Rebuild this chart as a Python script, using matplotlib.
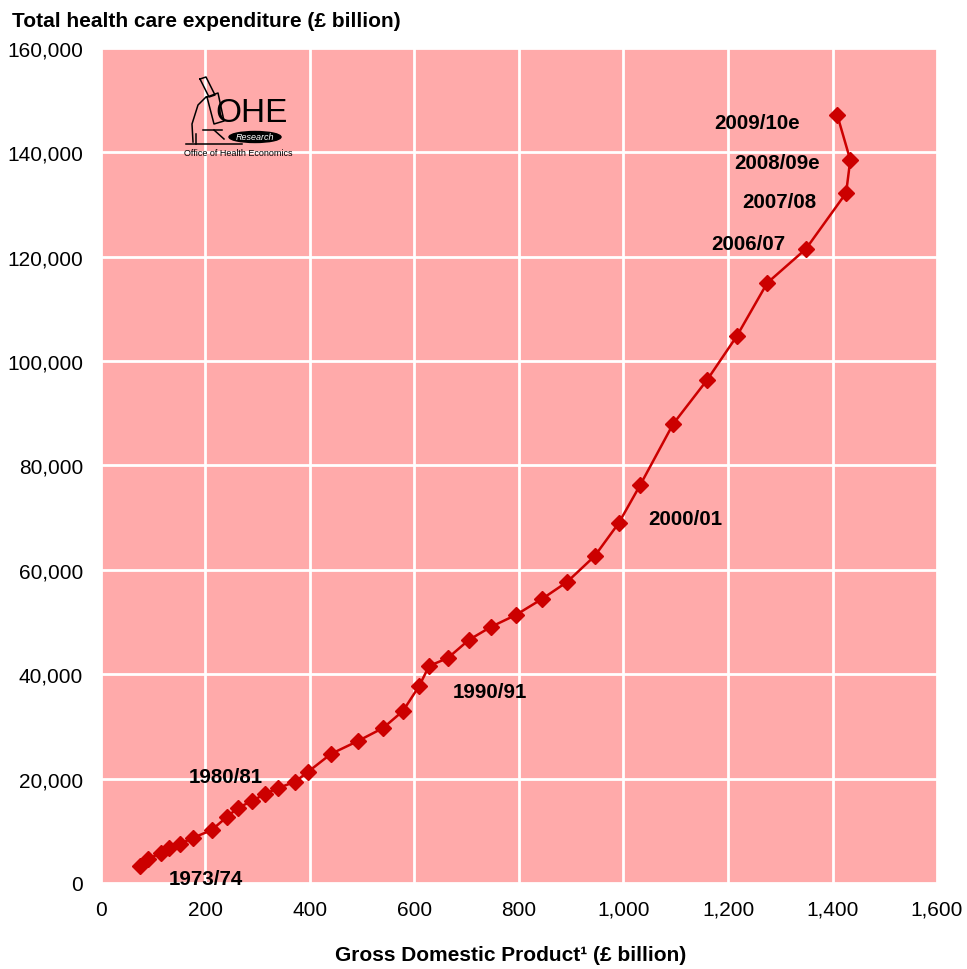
import matplotlib
matplotlib.use("Agg")
import matplotlib.pyplot as plt
from matplotlib.ticker import FuncFormatter
from matplotlib.patches import Ellipse

plt.rcParams['font.family'] = ['Liberation Sans', 'DejaVu Sans']

years = [f"{y}/{str(y+1)[-2:]}" for y in range(1973, 2010)]
gdp = [75, 90, 115, 130, 151, 176, 212, 241, 262, 289, 314, 339, 371, 396,
       440, 492, 540, 578, 609, 628, 664, 704, 746, 794, 844, 892, 945, 991,
       1032, 1095, 1160, 1217, 1275, 1349, 1426, 1434, 1409]
the = [3257, 4599, 5749, 6706, 7473, 8623, 10156, 12647, 14371, 15713, 17054,
       18204, 19353, 21270, 24719, 27210, 29701, 32958, 37749, 41581, 43114,
       46563, 49054, 51353, 54419, 57677, 62659, 68982, 76263, 87952, 96383,
       104814, 114970, 121485, 132216, 138539, 147162]

label_text = ["1973/74", "1980/81", "1990/91", "2000/01", "2006/07", "2007/08",
              "2008/09e", "2009/10e"]
label_x = [201, 239, 744, 1118, 1238, 1298, 1294, 1256]
label_y = [766, 20311, 36600, 69748, 122443, 130491, 137964, 145628]

fig = plt.figure(figsize=(9.67, 9.70), dpi=100)
ax = fig.add_axes([0.1044, 0.0887, 0.969 - 0.1044, 0.9495 - 0.0887])
ax.set_facecolor('#FFAAAA')
for s in ax.spines.values():
    s.set_visible(False)
ax.grid(True, color='white', linewidth=2)
ax.set_axisbelow(True)

ax.plot(gdp, the, color='#CC0000', linewidth=1.8, marker='D', markersize=8,
        markerfacecolor='#CC0000', markeredgecolor='#CC0000', zorder=3)

for t, x, y in zip(label_text, label_x, label_y):
    ax.text(x, y, t, ha='center', va='center', fontsize=14.8, fontweight='bold',
            color='black', zorder=4)

ax.set_xlim(0, 1600)
ax.set_ylim(0, 160000)
ax.set_xticks(range(0, 1601, 200))
ax.set_yticks(range(0, 160001, 20000))
fmt = FuncFormatter(lambda v, p: f"{int(v):,}")
ax.xaxis.set_major_formatter(fmt)
ax.yaxis.set_major_formatter(fmt)
ax.tick_params(length=0, labelsize=15)
ax.tick_params(axis='y', pad=13)
ax.tick_params(axis='x', pad=12)

fig.text(0.012, 0.978, "Total health care expenditure (£ billion)", fontsize=15,
         fontweight='bold', ha='left', va='center')
fig.text(0.528, 0.015, "Gross Domestic Product\u00b9 (£ billion)", fontsize=15,
         fontweight='bold', ha='center', va='center')

# OHE logo approximation (drawn in figure pixel coordinates)
W, H = 967.0, 970.0
def fp(px, py):
    return (px / W, 1 - py / H)

ohe_x, ohe_y = fp(252, 114)
fig.text(ohe_x, ohe_y, "OHE", fontsize=24, ha='center', va='center', color='black',
         family=['Liberation Sans Narrow', 'Liberation Sans'])
ex, ey = fp(255, 138)
fig.patches.append(Ellipse((ex, ey), 52 / W, 11 / H, facecolor='black', edgecolor='black',
                           transform=fig.transFigure, figure=fig))
fig.text(ex, ey, "Research", fontsize=6.5, fontstyle='italic', color='white',
         ha='center', va='center')
ox, oy = fp(184, 153)
fig.text(ox, oy, "Office of Health Economics", fontsize=6.5, ha='left', va='center',
         family=['Liberation Sans Narrow', 'Liberation Sans'])
# microscope sketch
strokes = [
    [(186, 145), (242, 145)],                          # base
    [(193, 143), (192, 125), (198, 106), (206, 98)],   # arm
    [(200, 80), (206, 78), (215, 96), (209, 98), (200, 80)],  # eyepiece
    [(207, 98), (218, 94), (224, 122), (214, 125), (207, 98)],  # tube
    [(203, 131), (222, 131)],                          # stage
    [(214, 131), (224, 140)],
    [(196, 135), (196, 145)],
]
for s in strokes:
    pts = [fp(px, py) for px, py in s]
    fig.add_artist(plt.Line2D([p[0] for p in pts], [p[1] for p in pts],
                              color='black', linewidth=1.1, transform=fig.transFigure))

fig.savefig("out.png", dpi=100)
